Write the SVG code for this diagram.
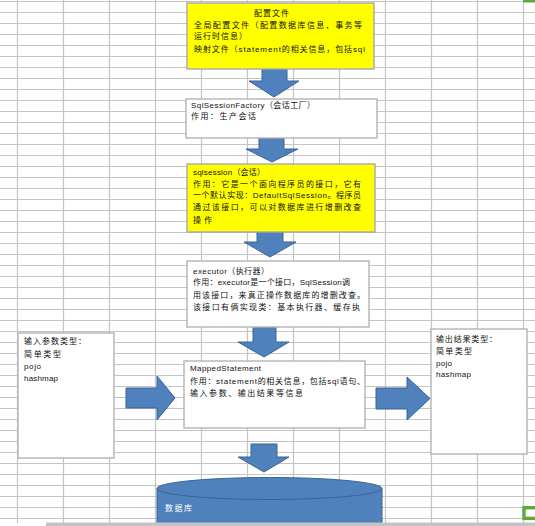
<svg xmlns="http://www.w3.org/2000/svg" width="535" height="526" viewBox="0 0 535 526">
<style>
.g{stroke:#c4c4c4;stroke-width:1.2}
.box{fill:#ffffff;stroke:#b4b4b4;stroke-width:1.4}
.ybox{fill:#ffff00;stroke:#a8a8a8;stroke-width:1.4}
.arr{fill:#4f81bd;stroke:#3a6593;stroke-width:1}
text{font-family:"Liberation Sans","Noto Sans CJK SC",sans-serif;font-size:8px;fill:#111111}
.w{fill:#ffffff}
</style>
<rect x="0" y="0" width="535" height="526" fill="#ffffff"/>
<g id="grid">
<path class="g" d="M0,1.5H535M0,12.5H535M0,23.5H535M0,34.5H535M0,45.5H535M0,56.5H535M0,67.5H535M0,78.5H535M0,89.5H535M0,100.5H535M0,111.5H535M0,122.5H535M0,133.5H535M0,144.5H535M0,155.5H535M0,166.5H535M0,177.5H535M0,188.5H535M0,199.5H535M0,210.5H535M0,221.5H535M0,232.5H535M0,243.5H535M0,254.5H535M0,265.5H535M0,276.5H535M0,287.5H535M0,298.5H535M0,309.5H535M0,320.5H535M0,331.5H535M0,342.5H535M0,353.5H535M0,364.5H535M0,375.5H535M0,386.5H535M0,397.5H535M0,408.5H535M0,419.5H535M0,430.5H535M0,441.5H535M0,452.5H535M0,463.5H535M0,474.5H535M0,485.5H535M0,496.5H535M0,507.5H535M0,518.5H535"/>
<path class="g" d="M17.5,0V523M63.5,0V523M109.5,0V523M155.5,0V523M201.5,0V523M247.5,0V523M293.5,0V523M339.5,0V523M385.5,0V523M431.5,0V523M477.5,0V523M523.5,0V523"/>
</g>
<g id="connectors">
<polygon class="arr" points="262,69 287,69 287,81 299,81 274,97 249,81 262,81"/>
<polygon class="arr" points="259,138 284,138 284,149 298,149 272,162 246,149 259,149"/>
<polygon class="arr" points="257,232 283,232 283,242 296,242 270,257 244,242 257,242"/>
<polygon class="arr" points="253,327 276,327 276,342 289,342 264,357 238,342 253,342"/>
<polygon class="arr" points="251,444 277,444 277,457 289,457 264,472 238,457 251,457"/>
<polygon class="arr" points="126,388 157,388 157,376 175,398 157,420 157,408 126,408"/>
<polygon class="arr" points="376,388 407,388 407,377 430,398.5 407,420 407,409 376,409"/>
</g>
<g id="config">
<rect class="ybox" x="187" y="3" width="187" height="66"/>
<text x="254" y="16" textLength="35">配置文件</text>
<text x="194" y="28" textLength="168">全局配置文件（配置数据库信息、事务等</text>
<text x="194" y="39" textLength="53">运行时信息）</text>
<text x="194" y="52" textLength="171">映射文件（statement的相关信息，包括sql</text>
</g>
<g id="factory">
<rect class="box" x="186" y="99" width="191" height="39"/>
<text x="191" y="108" textLength="124">SqlSessionFactory（会话工厂）</text>
<text x="191" y="119" textLength="65">作用：生产会话</text>
</g>
<g id="sqlsession">
<rect class="ybox" x="187" y="164" width="188" height="68"/>
<text x="193" y="175" textLength="72">sqlsession（会话）</text>
<text x="193" y="187" textLength="168">作用：它是一个面向程序员的接口，它有</text>
<text x="193" y="198" textLength="168">一个默认实现：DefaultSqlSession。程序员</text>
<text x="193" y="210" textLength="168">通过该接口，可以对数据库进行增删改查</text>
<text x="193" y="223" textLength="19">操作</text>
</g>
<g id="executor">
<rect class="box" x="187" y="261" width="182" height="66"/>
<text x="193" y="274" textLength="76">executor（执行器）</text>
<text x="193" y="285" textLength="157">作用：executor是一个接口，SqlSession调</text>
<text x="193" y="298" textLength="172">用该接口，来真正操作数据库的增删改查。</text>
<text x="193" y="310" textLength="167">该接口有俩实现类：基本执行器、缓存执</text>
</g>
<g id="mapped">
<rect class="box" x="184" y="361" width="181" height="67"/>
<text x="190" y="371" textLength="71">MappedStatement</text>
<text x="190" y="384" textLength="175">作用：statement的相关信息，包括sql语句、</text>
<text x="190" y="396" textLength="113">输入参数、输出结果等信息</text>
</g>
<g id="input">
<rect class="box" x="18" y="333" width="96" height="125"/>
<text x="24" y="344" textLength="62">输入参数类型：</text>
<text x="24" y="357" textLength="37">简单类型</text>
<text x="24" y="369" textLength="17">pojo</text>
<text x="24" y="381" textLength="34">hashmap</text>
</g>
<g id="output">
<rect class="box" x="431" y="329" width="96" height="125"/>
<text x="436" y="342" textLength="61">输出结果类型：</text>
<text x="436" y="354" textLength="36">简单类型</text>
<text x="436" y="366" textLength="16">pojo</text>
<text x="436" y="377" textLength="35">hashmap</text>
</g>
<g id="database">
<path class="arr" d="M157,488.5V530H382V488.5Z"/>
<ellipse class="arr" cx="269.5" cy="488.5" rx="112.5" ry="11"/>
<text class="w" x="165" y="511" textLength="27">数据库</text>
</g>
<rect x="46" y="522.5" width="489" height="4" fill="#c4c4c4"/>
<rect x="523" y="0" width="12" height="2.5" fill="#5fa83a"/>
<rect x="524" y="507.7" width="14" height="10.7" fill="none" stroke="#5fa83a" stroke-width="3.4"/>
</svg>
